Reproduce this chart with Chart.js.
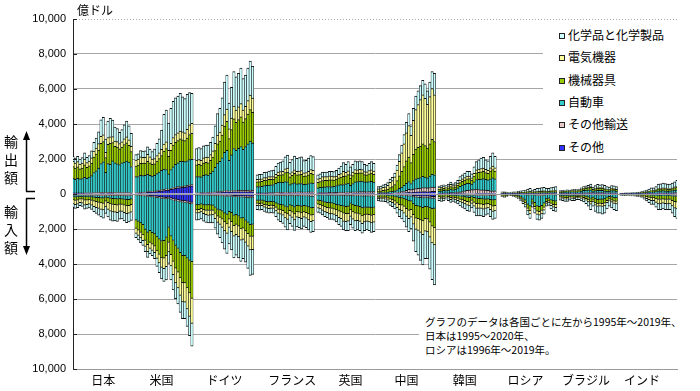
<!DOCTYPE html>
<html><head><meta charset="utf-8">
<script src="https://cdn.jsdelivr.net/npm/chart.js@4.4.1/dist/chart.umd.min.js"></script>
<style>
html,body{margin:0;padding:0;background:#fff;}
#wrap{position:relative;width:700px;height:391px;overflow:hidden;font-family:"Noto Sans CJK JP","Noto Sans",sans-serif;color:#000;}
#c{position:absolute;left:0;top:0;}
.unit{position:absolute;left:77px;top:3px;font-size:12px;line-height:14px;}
.vlab{position:absolute;left:3px;font-size:14px;line-height:18px;width:16px;text-align:center;}
#legend{position:absolute;left:543px;top:23px;width:157px;height:134px;background:#fff;}
#legend .row{position:absolute;left:16px;height:16px;font-size:12px;line-height:16px;white-space:nowrap;}
#legend .sw{display:inline-block;width:4px;height:4px;border:1px solid #222;margin-right:3px;vertical-align:1px;}
#note{position:absolute;left:419px;top:307px;width:272px;height:56px;background:#fff;}
#note div{position:absolute;left:6px;font-size:10.5px;line-height:13px;white-space:nowrap;}
svg{position:absolute;left:0;top:0;}
</style></head>
<body><div id="wrap">
<canvas id="c" width="700" height="391"></canvas>
<div class="unit">億ドル</div>
<div class="vlab" style="top:132px">輸<br>出<br>額</div>
<div class="vlab" style="top:202px">輸<br>入<br>額</div>
<svg width="60" height="391">
  <line x1="26.5" y1="138" x2="26.5" y2="191.5" stroke="#000" stroke-width="1.5"/>
  <line x1="26" y1="191.5" x2="35" y2="191.5" stroke="#000" stroke-width="1.5"/>
  <polygon points="26.5,131 23,140 30,140" fill="#000"/>
  <line x1="26.5" y1="198.5" x2="26.5" y2="247" stroke="#000" stroke-width="1.5"/>
  <line x1="26" y1="198.5" x2="35" y2="198.5" stroke="#000" stroke-width="1.5"/>
  <polygon points="26.5,255 23,246 30,246" fill="#000"/>
</svg>
<div id="legend"></div>
<div id="note">
  <div style="top:8px">グラフのデータは各国ごとに左から1995年～2019年、</div>
  <div style="top:22px">日本は1995～2020年、</div>
  <div style="top:36px">ロシアは1996年～2019年。</div>
</div>
</div>
<script>
// ---- categories ----
const countries = ['日本','米国','ドイツ','フランス','英国','中国','韓国','ロシア','ブラジル','インド'];
const codes     = ['JP','US','DE','FR','UK','CN','KR','RU','BR','IN'];
const firstYear = [1995,1995,1995,1995,1995,1995,1995,1996,1995,1995];
const lastYear  = [2020,2019,2019,2019,2019,2019,2019,2019,2019,2019];
// stack order from the zero line outward
const seriesKeys  = ['other','trans','auto','mach','elec','chem'];
const seriesNames = ['その他','その他輸送','自動車','機械器具','電気機器','化学品と化学製品'];
const yTicks = [-10000,-8000,-6000,-4000,-2000,0,2000,4000,6000,8000,10000];

// ---- values (億ドル); exports and imports as amounts ----
// Japan 1995-2020
const JP_exp_other=[20,20,20,20,20,25,25,25,25,30,30,30,35,35,30,35,35,35,30,30,30,30,30,30,30,25];
const JP_exp_trans=[40,40,40,40,40,45,45,45,45,50,50,55,60,60,55,55,55,55,50,50,50,50,50,50,50,45];
const JP_exp_auto =[850,780,830,800,820,880,830,900,980,1150,1250,1400,1650,1750,1150,1650,1600,1800,1700,1650,1600,1700,1750,1800,1750,1500];
const JP_exp_mach =[650,640,660,580,600,720,620,640,720,880,950,1020,1150,1150,850,1100,1200,1050,950,950,900,900,1000,1050,950,850];
const JP_exp_elec =[300,290,300,270,290,330,270,270,290,340,350,370,400,380,300,380,380,340,300,310,300,300,320,330,310,300];
const JP_exp_chem =[290,280,300,290,310,350,310,320,400,500,570,680,950,1000,750,950,1050,950,800,750,650,700,800,900,800,750];
const JP_imp_other=[40,40,40,40,40,45,45,45,45,50,50,50,55,55,50,55,60,60,60,60,60,60,60,65,65,60];
const JP_imp_trans=[30,30,30,30,30,30,30,30,30,35,35,35,40,40,35,40,40,40,40,40,40,40,45,45,45,40];
const JP_imp_auto =[100,110,100,80,80,90,90,90,100,110,120,130,140,150,110,130,150,170,180,200,180,190,210,220,220,190];
const JP_imp_mach =[170,190,180,150,150,190,190,170,190,220,240,260,280,290,220,270,310,320,330,340,310,310,330,350,340,320];
const JP_imp_elec =[220,240,230,200,230,290,260,250,270,310,330,350,370,380,320,380,420,430,430,430,400,390,420,440,430,430];
const JP_imp_chem =[200,210,200,170,180,220,210,210,240,290,330,380,420,460,370,440,520,530,500,500,450,430,480,520,500,470];
// United States 1995-2019
const US_exp_other=[30,40,50,60,70,90,100,110,120,140,160,180,200,230,220,260,300,330,350,370,380,390,420,450,460];
const US_exp_trans=[40,40,45,45,45,50,50,50,50,55,55,60,60,60,55,60,65,65,70,70,70,70,75,75,75];
const US_exp_auto =[920,920,965,945,945,980,910,870,890,965,1035,1110,1160,1110,875,1080,1185,1305,1360,1430,1420,1390,1405,1435,1445];
const US_exp_mach =[610,650,690,710,700,740,720,670,660,720,770,850,1030,1200,1000,1100,1250,1250,1270,1280,1230,1200,1300,1440,1490];
const US_exp_elec =[340,350,370,340,340,400,340,300,300,320,330,350,400,380,350,400,420,450,450,450,450,450,500,550,570];
const US_exp_chem =[310,300,360,350,370,440,440,430,540,700,800,1100,1700,1820,1550,2000,2080,2100,2100,2150,2000,1950,2000,1850,1710];
const US_imp_other=[20,30,40,50,60,80,90,100,120,140,160,180,200,210,200,240,280,310,340,370,390,400,430,460,480];
const US_imp_trans=[50,50,55,55,60,60,60,60,60,65,65,70,70,70,65,70,75,75,75,80,80,80,85,90,90];
const US_imp_auto =[1420,1480,1560,1650,1900,2050,1950,2050,2100,2250,2350,2450,2400,2200,1650,2100,2300,2550,2700,2900,3050,3050,3150,3250,3300];
const US_imp_mach =[470,500,540,580,630,700,660,660,700,800,880,950,1000,1050,850,1050,1200,1300,1350,1450,1550,1550,1700,1850,2090];
const US_imp_elec =[290,300,320,330,350,400,350,350,370,420,480,550,600,620,550,650,750,850,900,1000,1100,1100,1200,1350,1430];
const US_imp_chem =[250,260,270,280,290,330,310,300,340,460,560,650,720,760,650,800,870,900,920,960,950,950,1000,1100,1310];
// Germany 1995-2019
const DE_exp_other=[30,30,35,35,40,45,50,55,65,75,85,95,110,120,100,110,120,120,125,130,125,125,130,135,130];
const DE_exp_trans=[40,40,40,45,45,50,50,55,60,65,65,70,75,80,70,75,80,80,80,80,80,80,80,85,85];
const DE_exp_auto =[920,930,900,990,1020,990,1080,1200,1400,1620,1720,1900,2200,2300,1750,2050,2400,2300,2400,2500,2350,2500,2650,2800,2700];
const DE_exp_mach =[670,690,680,700,700,700,740,800,950,1100,1150,1300,1500,1650,1250,1450,1700,1600,1650,1700,1550,1600,1700,1800,1750];
const DE_exp_elec =[280,280,270,290,300,320,330,350,420,500,520,570,650,700,550,650,730,700,720,750,690,710,780,830,820];
const DE_exp_chem =[660,680,675,690,695,695,700,790,1005,1240,1360,1565,1865,1950,1480,1765,1970,1900,1925,2040,1805,1785,1860,1950,1815];
const DE_imp_other=[20,20,20,25,25,30,30,35,40,50,55,60,70,80,70,80,90,90,100,110,110,120,130,140,140];
const DE_imp_trans=[40,40,40,40,40,45,45,45,50,50,55,55,60,60,55,60,65,65,65,70,70,70,75,80,80];
const DE_imp_auto =[570,560,520,560,580,550,560,570,680,780,820,870,960,1020,880,930,1070,1020,1100,1200,1180,1320,1420,1530,1520];
const DE_imp_mach =[280,270,260,290,300,320,310,290,340,380,410,460,510,550,430,510,580,560,570,610,590,600,640,680,680];
const DE_imp_elec =[190,190,190,210,230,280,270,260,300,360,400,460,510,540,480,570,610,590,610,650,640,660,720,770,760];
const DE_imp_chem =[400,400,390,425,445,425,435,450,540,680,760,895,1040,1150,935,1050,1235,1175,1205,1210,1110,1130,1265,1450,1420];
// France 1995-2019
const FR_exp_other=[20,20,20,20,20,25,25,25,30,30,35,35,40,40,35,40,40,40,40,40,40,40,40,45,45];
const FR_exp_trans=[40,40,40,45,45,50,50,50,55,60,60,65,70,75,70,70,75,75,80,80,75,75,80,85,85];
const FR_exp_auto =[360,370,380,420,430,440,450,470,530,580,580,560,600,580,430,480,520,460,470,480,440,450,480,510,490];
const FR_exp_mach =[280,280,280,300,300,320,320,310,350,400,420,450,520,560,450,480,540,520,520,530,470,470,500,540,520];
const FR_exp_elec =[140,140,140,150,150,160,150,140,160,180,180,190,210,220,180,200,210,200,200,210,190,190,200,210,210];
const FR_exp_chem =[260,270,280,300,310,320,340,370,450,520,550,600,690,750,650,700,780,740,770,780,690,700,750,800,790];
const FR_imp_other=[20,20,20,20,20,25,25,25,30,30,35,35,40,40,35,40,45,40,40,45,45,45,50,55,55];
const FR_imp_trans=[40,40,40,45,45,45,45,45,50,55,55,60,65,70,60,65,70,65,65,70,65,70,75,80,80];
const FR_imp_auto =[300,310,300,340,370,380,370,380,440,500,520,540,610,640,540,580,640,560,570,590,550,580,620,660,650];
const FR_imp_mach =[180,180,180,200,210,220,210,210,250,290,300,320,360,390,320,350,390,360,370,380,360,370,390,420,410];
const FR_imp_elec =[130,130,130,150,160,170,170,170,200,230,240,250,290,310,270,300,330,300,310,320,310,320,340,360,350];
const FR_imp_chem =[230,240,230,245,245,260,260,270,330,395,430,475,535,600,475,515,605,555,575,595,520,535,575,625,605];
// United Kingdom 1995-2019
const UK_exp_other=[20,20,20,20,20,25,25,25,25,30,30,30,35,35,30,35,35,35,35,35,35,35,35,35,35];
const UK_exp_trans=[50,55,60,60,60,65,70,65,65,70,75,80,80,85,80,85,95,95,100,100,100,95,100,105,100];
const UK_exp_auto =[280,300,320,330,340,340,330,350,390,420,430,430,470,500,380,480,560,580,600,600,560,560,580,580,540];
const UK_exp_mach =[320,340,370,370,360,380,380,360,370,410,430,470,460,490,420,450,500,480,480,470,420,410,440,470,450];
const UK_exp_elec =[190,200,220,210,210,230,220,190,180,190,200,290,200,210,180,200,210,190,190,190,170,170,180,190,180];
const UK_exp_chem =[240,235,260,260,260,260,275,290,320,360,435,500,455,530,460,450,500,475,495,455,415,385,415,470,445];
const UK_imp_other=[20,20,20,25,25,25,25,30,30,30,35,35,35,40,35,40,40,40,40,45,45,45,45,50,50];
const UK_imp_trans=[40,40,45,45,50,50,50,50,55,55,60,60,65,65,60,65,70,70,70,75,75,75,75,80,80];
const UK_imp_auto =[300,320,360,400,420,440,450,480,520,560,570,600,620,600,450,520,560,580,610,680,650,640,640,660,640];
const UK_imp_mach =[220,230,250,270,280,300,300,300,310,340,360,400,410,420,360,400,430,420,430,450,420,410,420,440,430];
const UK_imp_elec =[230,240,260,280,290,320,310,310,330,370,390,470,450,430,380,420,440,420,420,440,410,400,410,420,410];
const UK_imp_chem =[240,250,265,280,285,315,315,330,355,395,435,485,520,545,465,505,560,520,530,555,500,480,510,550,540];
// China 1995-2019
const CN_exp_other=[10,10,10,10,15,20,25,30,40,50,60,70,80,90,80,100,110,120,130,140,140,130,140,150,150];
const CN_exp_trans=[10,10,15,15,20,25,30,35,45,60,80,100,130,170,170,180,200,210,210,230,230,220,230,250,250];
const CN_exp_auto =[50,55,60,60,70,90,100,120,160,210,260,320,400,450,350,480,560,580,600,640,600,580,650,730,700];
const CN_exp_mach =[100,110,130,150,170,230,270,360,520,720,900,1080,1280,1400,1200,1500,1700,1750,1800,1850,1800,1700,1850,2000,1900];
const CN_exp_elec =[120,130,160,180,220,300,340,430,600,830,1050,1300,1600,1800,1550,1950,2250,2450,2650,2800,2700,2500,2700,2900,2670];
const CN_exp_chem =[130,135,145,145,155,185,185,225,285,380,450,530,610,690,550,690,780,790,810,840,830,770,830,970,1230];
const CN_imp_other=[10,10,10,10,15,20,20,25,30,40,45,50,60,70,70,90,100,110,120,130,130,130,140,150,150];
const CN_imp_trans=[20,20,20,20,25,25,30,30,35,40,45,50,55,60,60,70,80,80,85,90,90,90,95,100,100];
const CN_imp_auto =[40,40,40,40,50,60,70,90,120,140,150,180,230,270,280,400,480,500,530,560,500,520,560,590,570];
const CN_imp_mach =[120,130,120,130,150,190,220,260,340,390,400,430,490,540,480,620,720,720,740,760,690,700,820,1000,1120];
const CN_imp_elec =[80,85,90,95,110,140,160,190,250,300,330,380,440,470,430,550,640,670,720,780,720,720,850,960,970];
const CN_imp_chem =[130,135,140,145,170,215,220,255,325,390,450,510,625,740,680,970,1280,1420,1605,1730,1570,1540,1835,2100,2290];
// Korea 1995-2019
const KR_exp_other=[10,10,10,10,10,15,15,15,20,20,25,25,30,30,30,30,35,35,35,35,35,35,35,40,40];
const KR_exp_trans=[40,45,50,50,50,60,60,70,80,100,120,150,180,200,220,220,250,220,200,200,190,170,150,140,140];
const KR_exp_auto =[120,130,150,140,170,210,170,200,250,320,360,380,400,380,310,440,540,590,620,640,610,600,680,740,690];
const KR_exp_mach =[100,110,110,100,120,140,120,130,160,210,220,240,260,270,240,330,380,390,410,420,390,380,440,480,440];
const KR_exp_elec =[100,100,110,100,110,130,110,110,120,140,140,150,150,140,120,160,180,190,190,190,180,170,190,200,180];
const KR_exp_chem =[80,85,90,80,100,125,105,125,150,210,235,255,280,280,230,370,465,525,595,615,545,545,655,750,660];
const KR_imp_other=[10,10,10,10,10,15,15,15,20,20,25,25,30,30,30,30,35,35,35,35,35,35,35,40,40];
const KR_imp_trans=[20,25,25,20,20,25,25,30,30,35,35,40,45,50,40,45,50,50,50,50,50,50,55,60,60];
const KR_imp_auto =[30,35,30,20,25,35,35,45,55,70,85,100,120,130,100,140,170,180,190,210,220,210,230,250,240];
const KR_imp_mach =[110,120,120,80,100,130,120,130,150,180,200,220,240,250,200,260,300,300,300,310,280,260,300,350,330];
const KR_imp_elec =[80,90,85,65,90,115,100,110,125,150,165,185,205,215,170,225,265,260,255,265,245,235,270,300,290];
const KR_imp_chem =[130,140,130,105,135,160,135,150,180,225,250,280,310,325,260,350,430,425,420,430,375,360,410,450,440];
// Russia 1996-2019
const RU_exp_other=[5,5,5,5,5,5,5,5,10,10,10,10,15,10,10,10,10,10,15,10,10,10,15,15];
const RU_exp_trans=[15,15,10,10,10,15,15,15,15,15,20,25,25,20,20,25,25,30,30,25,30,35,35,35];
const RU_exp_auto =[15,15,10,10,10,10,10,15,15,15,20,25,30,15,20,25,30,30,30,25,25,30,35,40];
const RU_exp_mach =[35,40,35,30,30,35,40,45,50,55,60,70,80,60,70,80,85,90,95,85,85,95,100,105];
const RU_exp_elec =[10,10,10,10,10,10,10,10,15,15,15,20,20,15,20,20,20,20,20,20,20,20,25,25];
const RU_exp_chem =[40,45,40,35,45,45,50,60,75,90,105,130,160,110,130,160,170,180,190,165,150,170,190,200];
const RU_imp_other=[5,5,5,5,5,5,5,10,10,15,20,30,35,20,30,40,40,40,35,20,20,25,25,30];
const RU_imp_trans=[5,5,5,5,5,5,5,10,15,20,25,30,35,25,30,40,45,45,40,25,25,30,30,30];
const RU_imp_auto =[40,60,45,20,25,45,65,100,150,220,310,530,620,270,440,620,640,580,450,230,210,300,340,350];
const RU_imp_mach =[35,45,35,20,25,35,45,60,80,110,150,230,270,160,220,280,290,280,240,160,150,190,210,220];
const RU_imp_elec =[25,35,25,15,15,25,30,40,55,70,95,150,180,110,150,190,200,190,160,100,95,125,145,150];
const RU_imp_chem =[40,50,35,15,25,35,50,60,90,115,150,230,260,165,230,280,285,265,225,165,150,180,200,220];
// Brazil 1995-2019
const BR_exp_other=[10,10,10,10,10,10,10,10,10,15,15,15,20,20,15,15,20,20,20,20,15,15,20,20,20];
const BR_exp_trans=[20,20,30,40,40,50,55,45,40,45,50,55,60,65,60,55,55,55,55,50,50,50,50,50,45];
const BR_exp_auto =[50,50,60,60,50,60,60,60,80,110,140,150,160,160,90,120,140,130,140,110,90,90,130,120,100];
const BR_exp_mach =[50,55,55,55,45,55,60,55,60,80,100,110,120,140,100,120,130,130,130,120,100,95,110,110,100];
const BR_exp_elec =[15,15,15,15,15,20,20,20,20,25,30,30,30,35,25,25,25,25,25,25,20,20,20,20,20];
const BR_exp_chem =[55,60,60,60,50,55,55,60,70,75,85,100,110,140,110,145,180,170,170,175,145,130,150,150,135];
const BR_imp_other=[10,10,10,10,10,10,10,10,10,10,10,15,15,20,15,20,25,25,25,25,20,15,15,20,20];
const BR_imp_trans=[15,15,20,20,15,15,20,15,15,15,20,20,25,30,25,35,40,40,40,40,30,25,25,30,30];
const BR_imp_auto =[70,70,80,80,60,70,70,50,50,60,70,100,140,200,150,230,260,240,240,220,150,110,140,170,180];
const BR_imp_mach =[90,100,110,110,90,90,90,80,80,100,110,130,160,200,160,220,240,240,250,240,180,150,170,190,200];
const BR_imp_elec =[60,60,70,70,60,70,70,55,55,70,80,90,110,130,100,140,150,150,160,150,120,100,120,130,140];
const BR_imp_chem =[105,125,140,130,115,125,120,110,110,145,160,195,250,320,250,355,385,405,435,425,350,300,330,360,380];
// India 1995-2019
const IN_exp_other=[5,5,5,5,5,5,5,5,5,10,10,10,15,15,15,15,20,20,20,20,20,20,20,25,25];
const IN_exp_trans=[5,5,5,5,5,5,5,5,10,10,15,20,25,30,35,40,50,50,50,45,40,40,45,50,55];
const IN_exp_auto =[10,10,10,10,10,15,15,20,25,30,35,45,55,70,70,80,110,110,120,120,110,115,130,150,160];
const IN_exp_mach =[10,10,10,10,10,15,15,15,20,30,35,45,55,70,70,85,110,110,120,120,110,110,120,140,150];
const IN_exp_elec =[5,5,5,5,5,5,5,5,5,10,10,15,20,25,25,30,40,40,40,35,30,30,35,45,50];
const IN_exp_chem =[15,20,25,25,30,35,35,40,45,60,75,95,110,140,135,170,230,250,270,260,250,245,270,290,340];
const IN_imp_other=[5,5,5,5,5,5,5,5,5,10,10,15,20,20,20,25,30,30,30,30,30,30,35,40,40];
const IN_imp_trans=[5,5,5,5,5,5,5,5,5,10,15,20,20,25,25,30,30,30,25,25,30,30,35,40,40];
const IN_imp_auto =[5,5,5,5,5,5,5,5,10,10,15,20,25,30,30,40,45,45,40,40,45,45,55,60,60];
const IN_imp_mach =[25,30,30,30,30,30,30,35,45,60,80,100,130,150,150,180,210,210,200,210,210,210,250,300,320];
const IN_imp_elec =[15,15,20,20,25,25,30,40,45,60,80,105,130,160,160,200,250,250,230,250,250,250,310,370,390];
const IN_imp_chem =[25,30,35,35,40,40,45,50,60,80,100,140,175,215,215,275,335,335,325,345,335,335,415,490,550];

// ---- lookup table built from the arrays ----
const table = {
  JP:{exp:[JP_exp_other,JP_exp_trans,JP_exp_auto,JP_exp_mach,JP_exp_elec,JP_exp_chem],imp:[JP_imp_other,JP_imp_trans,JP_imp_auto,JP_imp_mach,JP_imp_elec,JP_imp_chem]},
  US:{exp:[US_exp_other,US_exp_trans,US_exp_auto,US_exp_mach,US_exp_elec,US_exp_chem],imp:[US_imp_other,US_imp_trans,US_imp_auto,US_imp_mach,US_imp_elec,US_imp_chem]},
  DE:{exp:[DE_exp_other,DE_exp_trans,DE_exp_auto,DE_exp_mach,DE_exp_elec,DE_exp_chem],imp:[DE_imp_other,DE_imp_trans,DE_imp_auto,DE_imp_mach,DE_imp_elec,DE_imp_chem]},
  FR:{exp:[FR_exp_other,FR_exp_trans,FR_exp_auto,FR_exp_mach,FR_exp_elec,FR_exp_chem],imp:[FR_imp_other,FR_imp_trans,FR_imp_auto,FR_imp_mach,FR_imp_elec,FR_imp_chem]},
  UK:{exp:[UK_exp_other,UK_exp_trans,UK_exp_auto,UK_exp_mach,UK_exp_elec,UK_exp_chem],imp:[UK_imp_other,UK_imp_trans,UK_imp_auto,UK_imp_mach,UK_imp_elec,UK_imp_chem]},
  CN:{exp:[CN_exp_other,CN_exp_trans,CN_exp_auto,CN_exp_mach,CN_exp_elec,CN_exp_chem],imp:[CN_imp_other,CN_imp_trans,CN_imp_auto,CN_imp_mach,CN_imp_elec,CN_imp_chem]},
  KR:{exp:[KR_exp_other,KR_exp_trans,KR_exp_auto,KR_exp_mach,KR_exp_elec,KR_exp_chem],imp:[KR_imp_other,KR_imp_trans,KR_imp_auto,KR_imp_mach,KR_imp_elec,KR_imp_chem]},
  RU:{exp:[RU_exp_other,RU_exp_trans,RU_exp_auto,RU_exp_mach,RU_exp_elec,RU_exp_chem],imp:[RU_imp_other,RU_imp_trans,RU_imp_auto,RU_imp_mach,RU_imp_elec,RU_imp_chem]},
  BR:{exp:[BR_exp_other,BR_exp_trans,BR_exp_auto,BR_exp_mach,BR_exp_elec,BR_exp_chem],imp:[BR_imp_other,BR_imp_trans,BR_imp_auto,BR_imp_mach,BR_imp_elec,BR_imp_chem]},
  IN:{exp:[IN_exp_other,IN_exp_trans,IN_exp_auto,IN_exp_mach,IN_exp_elec,IN_exp_chem],imp:[IN_imp_other,IN_imp_trans,IN_imp_auto,IN_imp_mach,IN_imp_elec,IN_imp_chem]}
};

const colors = {other:'#3333FF',trans:'#E8CCCC',auto:'#33CCCC',mach:'#99CC00',elec:'#FFFF99',chem:'#CCFFFF'};
// layout only: nudge each country label (in slots) to where the original places it
const labelNudge = [1,-1,0,3,2,0,-1,-1,-1,-3];

// ---- build slots: one per year, one empty slot between countries ----
const labels = [];
const expCols = seriesKeys.map(()=>[]);
const impCols = seriesKeys.map(()=>[]);
const tickText = {};
codes.forEach((code,ci)=>{
  if (ci>0){ labels.push(''); seriesKeys.forEach((k,j)=>{expCols[j].push(null);impCols[j].push(null);}); }
  const start = labels.length;
  const nSlots = lastYear[ci]-1995+1;
  for (let s=0;s<nSlots;s++){
    const yr = 1995+s, idx = yr-firstYear[ci];
    labels.push(countries[ci]+' '+yr);
    seriesKeys.forEach((k,j)=>{
      const e = idx>=0 ? table[code].exp[j][idx] : null;
      const m = idx>=0 ? table[code].imp[j][idx] : null;
      expCols[j].push(e==null?null:e);
      impCols[j].push(m==null?null:-m);
    });
  }
  tickText[Math.floor(start+(nSlots-1)/2)+labelNudge[ci]] = countries[ci];
});

const barStyle = {
  stack:'s', barPercentage:1, categoryPercentage:1,
  borderColor:'#111', borderWidth:{top:1,bottom:1,left:0.6,right:0.6}, borderSkipped:'start'
};
const datasets = [];
seriesKeys.forEach((k,j)=>{
  datasets.push(Object.assign({label:seriesNames[j]+'(輸出)',data:expCols[j],backgroundColor:colors[k]},barStyle));
});
seriesKeys.forEach((k,j)=>{
  datasets.push(Object.assign({label:seriesNames[j]+'(輸入)',data:impCols[j],backgroundColor:colors[k]},barStyle));
});

const frame = {
  id:'frame',
  beforeDatasetsDraw(chart){
    const {ctx, chartArea:a} = chart;
    ctx.save(); ctx.strokeStyle='#a6a6a6'; ctx.lineWidth=1; ctx.setLineDash([1,2]);
    ctx.beginPath(); ctx.moveTo(a.left,a.top+0.5); ctx.lineTo(a.right,a.top+0.5); ctx.stroke(); ctx.restore();
  },
  afterDatasetsDraw(chart){
    const {ctx, chartArea:a, scales:{y}} = chart;
    const py = Math.round(y.getPixelForValue(0))+0.5;
    ctx.save(); ctx.strokeStyle='#9a9a9a'; ctx.lineWidth=1;
    ctx.beginPath(); ctx.moveTo(a.left,py); ctx.lineTo(a.right,py); ctx.stroke();
    // short inside tick marks on the value axis
    ctx.strokeStyle='#222';
    yTicks.forEach(v=>{
      const ty = Math.round(y.getPixelForValue(v))+0.5;
      ctx.beginPath(); ctx.moveTo(a.left,ty); ctx.lineTo(a.left+4,ty); ctx.stroke();
    });
    ctx.restore();
  }
};

new Chart(document.getElementById('c'),{
  type:'bar',
  data:{labels, datasets},
  options:{
    responsive:false, animation:false, devicePixelRatio:1,
    layout:{padding:{top:19,right:23,left:0,bottom:0}},
    plugins:{legend:{display:false},tooltip:{enabled:false}},
    scales:{
      x:{
        stacked:true, offset:false,
        grid:{display:false,drawTicks:false},
        border:{display:true,color:'#9a9a9a'},
        ticks:{autoSkip:false,maxRotation:0,minRotation:0,padding:4,color:'#000',
               font:{family:'"Noto Sans CJK JP"',size:12},
               callback:(v,i)=>tickText[i]||''},
        afterFit(s){ s.height=22; }
      },
      y:{
        stacked:true, min:-10000, max:10000,
        afterBuildTicks(s){ s.ticks = yTicks.map(v=>({value:v})); },
        grid:{color:c=>(c.tick && c.tick.value===10000)?'rgba(0,0,0,0)':'#a6a6a6',lineWidth:1,drawTicks:false},
        border:{display:true,color:'#222',width:1},
        ticks:{padding:7,color:'#000',font:{family:'"Liberation Sans",Arial',size:11},
               callback:v=>Math.abs(v).toLocaleString('en-US')},
        afterFit(s){ s.width=73; }
      }
    }
  },
  plugins:[frame]
});

// ---- legend (top = last in stack) ----
const lg = document.getElementById('legend');
const legendOrder = ['chem','elec','mach','auto','trans','other'];
legendOrder.forEach((k,i)=>{
  const row = document.createElement('div');
  row.className='row';
  row.style.top = (4+i*22.3)+'px';
  row.innerHTML = '<span class="sw" style="background:'+colors[k]+'"></span>'+seriesNames[seriesKeys.indexOf(k)];
  lg.appendChild(row);
});
</script>
</body></html>
